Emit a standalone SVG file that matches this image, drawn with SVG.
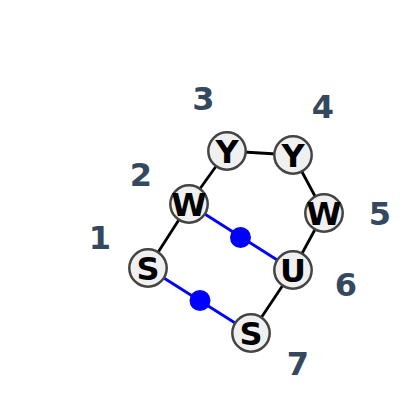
<svg xmlns="http://www.w3.org/2000/svg" width="400" height="412" viewBox="0 0 400 412">
<style>
.e{stroke:#000;stroke-width:2.8;fill:none}
.b{stroke:#0000ff;stroke-width:2.8;fill:none}
.d{fill:#0000ff}
.n circle{fill:#f0f0f0;stroke:#444;stroke-width:2.5}
.n text{font-family:"DejaVu Sans",sans-serif;font-weight:bold;font-size:32px;fill:#000;text-anchor:middle}
.l{font-family:"DejaVu Sans",sans-serif;font-weight:bold;font-size:32px;fill:#34495e;text-anchor:middle}
</style>
<rect width="400" height="412" fill="#fff"/>
<g id="connectors">
<line class="e" x1="148" y1="268" x2="189" y2="204"/>
<line class="e" x1="189" y1="204" x2="227" y2="151"/>
<line class="e" x1="227" y1="151" x2="293" y2="155"/>
<line class="e" x1="293" y1="155" x2="324" y2="213"/>
<line class="e" x1="324" y1="213" x2="293" y2="270"/>
<line class="e" x1="293" y1="270" x2="251" y2="333"/>
<line class="b" x1="189" y1="204" x2="293" y2="270"/>
<line class="b" x1="148" y1="268" x2="251" y2="333"/>
<circle class="d" cx="240.5" cy="237.5" r="10.5"/>
<circle class="d" cx="200" cy="300.5" r="10.5"/>
</g>
<g id="n1" class="n"><circle cx="148" cy="268" r="18.7"/><text x="148" y="279.5">S</text></g>
<g id="n2" class="n"><circle cx="189" cy="204" r="18.7"/><text x="189" y="215.5">W</text></g>
<g id="n3" class="n"><circle cx="227" cy="151" r="18.7"/><text x="227" y="162.5">Y</text></g>
<g id="n4" class="n"><circle cx="293" cy="155" r="18.7"/><text x="293" y="166.5">Y</text></g>
<g id="n5" class="n"><circle cx="324" cy="213" r="18.7"/><text x="324" y="224.5">W</text></g>
<g id="n6" class="n"><circle cx="293" cy="270" r="18.7"/><text x="293" y="281.5">U</text></g>
<g id="n7" class="n"><circle cx="251" cy="333" r="18.7"/><text x="251" y="344.5">S</text></g>
<g id="labels">
<text class="l" x="100" y="249">1</text>
<text class="l" x="141" y="186">2</text>
<text class="l" x="203.5" y="110">3</text>
<text class="l" x="323" y="118">4</text>
<text class="l" x="380" y="225">5</text>
<text class="l" x="346" y="296">6</text>
<text class="l" x="298" y="375">7</text>
</g>
</svg>
